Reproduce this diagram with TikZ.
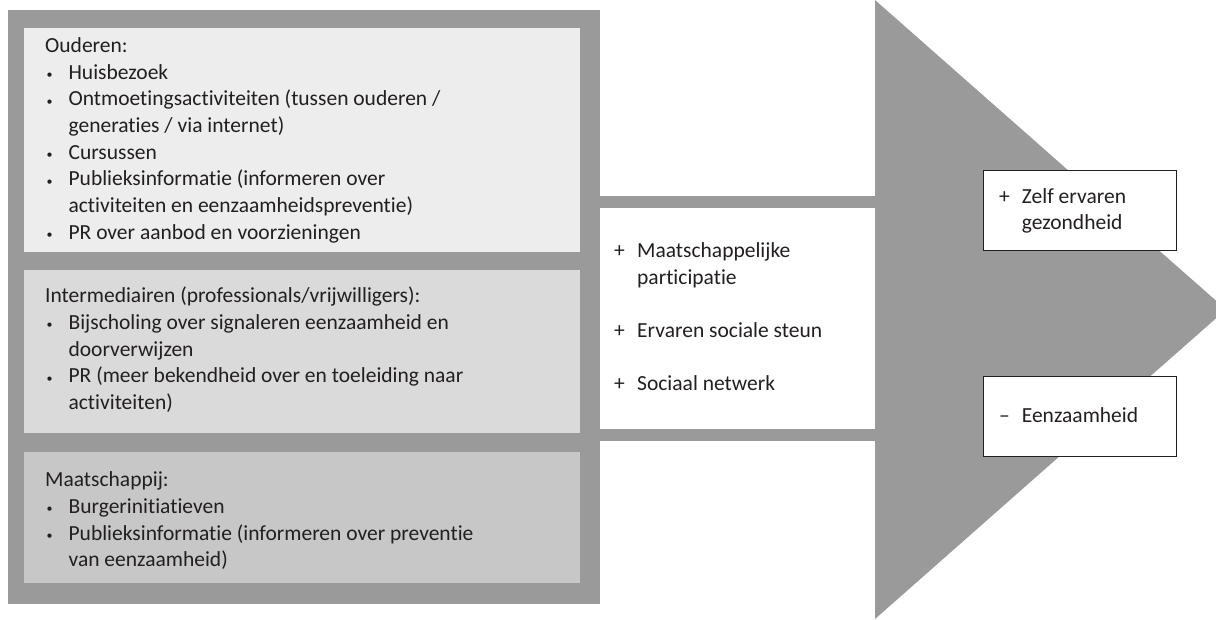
\documentclass[tikz,border=0pt]{standalone}
\usepackage{fontspec}
\setmainfont{Carlito}[Ligatures={NoCommon}]
\usetikzlibrary{positioning}
\definecolor{EENZarrow}{HTML}{9A9A9A}
\definecolor{EENZlight}{HTML}{ECEDEC}
\definecolor{EENZmiddle}{HTML}{DADADA}
\definecolor{EENZdark}{HTML}{C6C7C6}
\definecolor{EENZtext}{HTML}{231F20}
\newcommand{\blt}{\hspace*{1.5pt}\raisebox{0.5pt}{\fontsize{12}{12}\selectfont\textbullet}}

\begin{document}
\begin{tikzpicture}[x=1pt,y=-1pt,
  every node/.style={inner sep=0pt,text=EENZtext,font=\fontsize{21.5}{26.7}\selectfont},
  listtext/.style={anchor=base west},
  resultbox/.style={draw=EENZtext,line width=1pt,fill=white,minimum width=193pt,minimum height=80pt}]
\useasboundingbox (0,0) rectangle (1216,619);

% Arrow head
\begin{scope}
\clip (0,0) rectangle (1216,619);
\fill[EENZarrow] (875,0) -- (1226,309.5) -- (875,619) -- cycle;
\end{scope}

% Shaft
\fill[EENZarrow] (598,196) rectangle (876,441);
\fill[white] (599.5,208) rectangle (875,429);

% Frame with the three groups
\fill[EENZarrow] (7.5,10.3) rectangle (599.5,604);
\fill[EENZlight] (24,28) rectangle (580,252);
\fill[EENZmiddle] (24,270) rectangle (580,433);
\fill[EENZdark] (24,452) rectangle (580,583);

% Groups
\node[listtext] (ouderen) at (45,52.3) {\begin{tabular}[t]{@{}p{23.4pt}@{}l@{}}
\multicolumn{2}{@{}l@{}}{Ouderen:}\\
\blt & Huisbezoek\\
\blt & Ontmoetingsactiviteiten (tussen ouderen /\\
 & generaties / via internet)\\
\blt & Cursussen\\
\blt & Publieksinformatie (informeren over\\
 & activiteiten en eenzaamheidspreventie)\\
\blt & PR over aanbod en voorzieningen
\end{tabular}};

\node[listtext] (intermediairen) at (45,302.7) {\begin{tabular}[t]{@{}p{23.4pt}@{}l@{}}
\multicolumn{2}{@{}l@{}}{Intermediairen (professionals/vrijwilligers):}\\
\blt & Bijscholing over signaleren eenzaamheid en\\
 & doorverwijzen\\
\blt & PR (meer bekendheid over en toeleiding naar\\
 & activiteiten)
\end{tabular}};

\node[listtext] (maatschappij) at (45,486.7) {\begin{tabular}[t]{@{}p{23.4pt}@{}l@{}}
\multicolumn{2}{@{}l@{}}{Maatschappij:}\\
\blt & Burgerinitiatieven\\
\blt & Publieksinformatie (informeren over preventie\\
 & van eenzaamheid)
\end{tabular}};

% Intermediate outcomes
\node[listtext] (tussen) at (614,257.3) {\begin{tabular}[t]{@{}p{23pt}@{}l@{}}
+ & Maatschappelijke\\
 & participatie\\[26.7pt]
+ & Ervaren sociale steun\\[26.7pt]
+ & Sociaal netwerk
\end{tabular}};

% Final outcomes
\node[resultbox] (gezondheidbox) at (1079.5,210.4) {};
\node[listtext] (gezondheid) at (999,203) {\begin{tabular}[t]{@{}p{22.7pt}@{}l@{}}
+ & Zelf ervaren\\
 & gezondheid
\end{tabular}};

\node[resultbox] (eenzaamheidbox) at (1079.5,416.1) {};
\node[listtext] (eenzaamheid) at (999,422.4) {\begin{tabular}[t]{@{}p{22.7pt}@{}l@{}}
-- & Eenzaamheid
\end{tabular}};

\end{tikzpicture}
\end{document}
